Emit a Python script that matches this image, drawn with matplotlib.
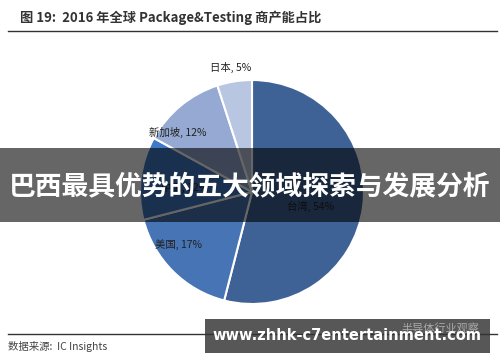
import matplotlib
matplotlib.use('Agg')
import matplotlib.pyplot as plt

plt.rcParams['font.family'] = ['Noto Sans CJK SC', 'DejaVu Sans']

# data
regions = ['台湾', '美国', '中国', '新加坡', '日本']
shares = [54, 17, 12, 12, 5]
colors = ['#3f6296', '#4674b4', '#3f78c6', '#95a9d2', '#b9c6e2']

# label anchor positions (in pie radius units)
label_xy = [(0.52, -0.13), (-0.66, -0.47), (-0.60, 0.04), (-0.66, 0.53), (-0.19, 1.11)]

title = '图 19:  2016 年全球 Package&Testing 商产能占比'
source = '数据来源:  IC Insights'
banner = '巴西最具优势的五大领域探索与发展分析'
watermark = 'www.zhhk-c7entertainment.com'
faint = '半导体行业观察'

W, H = 500, 362
fig = plt.figure(figsize=(W / 100, H / 100), dpi=100)
fig.patch.set_facecolor('white')

# pie axes: centre (252, 192) px, radius 112 px
cx, cy, r = 252, 192, 112
ax = fig.add_axes([(cx - r) / W, (H - cy - r) / H, 2 * r / W, 2 * r / H])
ax.pie(shares, colors=colors, startangle=90, counterclock=False, radius=1,
       wedgeprops=dict(edgecolor='white', linewidth=1.5))
ax.set_xlim(-1, 1)
ax.set_ylim(-1, 1)
ax.set_aspect('equal')
ax.axis('off')
for name, val, (lx, ly) in zip(regions, shares, label_xy):
    ax.text(lx, ly, f'{name}, {val}%', ha='center', va='center',
            fontsize=7.5, color='#222222', clip_on=False)

# header / footer
fig.text(20 / W, 1 - 18 / H, title, fontsize=9.5, fontweight='bold',
         color='#333333', ha='left', va='center')
fig.add_artist(plt.Line2D([8 / W, 497 / W], [1 - 31 / H, 1 - 31 / H],
                          color='#333333', linewidth=1.0))
fig.add_artist(plt.Line2D([8 / W, 497 / W], [1 - 334 / H, 1 - 334 / H],
                          color='#333333', linewidth=1.0))
fig.text(8 / W, 1 - 347 / H, source, fontsize=7.5, color='#444444',
         ha='left', va='center')
fig.text(440 / W, 1 - 328 / H, faint, fontsize=8, color='#aaaaaa',
         ha='center', va='center')

# dark translucent banner with headline
fig.add_artist(plt.Rectangle((0, 1 - 222 / H), 1, 74 / H, transform=fig.transFigure,
                             facecolor='black', alpha=0.6, edgecolor='none'))
fig.text(250 / W, 1 - 186 / H, banner, fontsize=19.3, fontweight='bold',
         color='white', ha='center', va='center')

# watermark box
fig.add_artist(plt.Rectangle((205 / W, 1 - 353 / H), 285 / W, 34 / H,
                             transform=fig.transFigure, facecolor='#3a3a3a',
                             alpha=0.85, edgecolor='none'))
fig.text(347 / W, 1 - 336 / H, watermark, fontsize=10.5, fontweight='bold',
         color='white', ha='center', va='center', family='DejaVu Sans')

fig.savefig('out.png', dpi=100)
